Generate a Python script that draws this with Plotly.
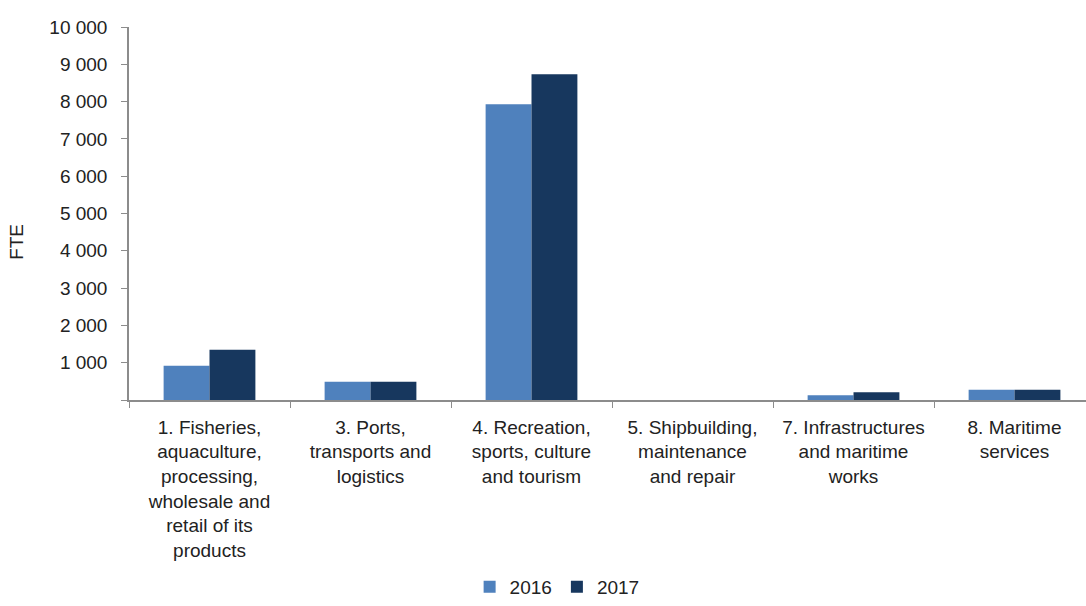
import plotly.graph_objects as go

categories = [
    "1. Fisheries,<br>aquaculture,<br>processing,<br>wholesale and<br>retail of its<br>products",
    "3. Ports,<br>transports and<br>logistics",
    "4. Recreation,<br>sports, culture<br>and tourism",
    "5. Shipbuilding,<br>maintenance<br>and repair",
    "7. Infrastructures<br>and maritime<br>works",
    "8. Maritime<br>services",
]
fte_2016 = [920, 490, 7930, 0, 130, 275]
fte_2017 = [1350, 490, 8730, 0, 205, 275]
y_ticks = [0, 1000, 2000, 3000, 4000, 5000, 6000, 7000, 8000, 9000, 10000]
y_tick_labels = ["", "1 000", "2 000", "3 000", "4 000", "5 000", "6 000",
                 "7 000", "8 000", "9 000", "10 000"]

FONT = "Liberation Sans, Arial, sans-serif"
AXIS_GREY = "#8c8c8c"

fig = go.Figure()
fig.add_trace(go.Bar(name="2016", x=categories, y=fte_2016, marker_color="#4f81bd",
                     marker_line_width=0))
fig.add_trace(go.Bar(name="2017", x=categories, y=fte_2017, marker_color="#17375e",
                     marker_line_width=0))

fig.update_layout(
    width=1086, height=606,
    margin=dict(l=129, r=0, t=27, b=206),
    paper_bgcolor="white", plot_bgcolor="white",
    barmode="group", bargap=0.43, bargroupgap=0,
    font=dict(family=FONT, size=19, color="#222222"),
    showlegend=True,
    legend=dict(orientation="h", x=0.513, xref="container", xanchor="center",
                y=-0.012, yref="container", yanchor="bottom",
                font=dict(size=19), itemwidth=30, traceorder="normal",
                bgcolor="rgba(0,0,0,0)"),
    annotations=[dict(text="FTE", textangle=-90, xref="paper", yref="paper",
                      x=(17 - 129) / 957, y=0.424, xanchor="center", yanchor="middle",
                      showarrow=False, font=dict(size=19))],
)
fig.update_xaxes(
    range=[-0.5, 5.444],
    showline=True, linecolor=AXIS_GREY, linewidth=1.5,
    tickson="boundaries", ticks="outside", ticklen=6, tickcolor=AXIS_GREY,
    ticklabelstandoff=9,
    showgrid=False, tickangle=0, automargin=False,
)
fig.update_yaxes(
    range=[0, 10000],
    tickvals=y_ticks, ticktext=y_tick_labels,
    showline=True, linecolor=AXIS_GREY, linewidth=1.5,
    ticks="outside", ticklen=6, tickcolor=AXIS_GREY,
    ticklabelstandoff=10,
    showgrid=False, zeroline=False, automargin=False,
)

fig.write_html("out.html")
